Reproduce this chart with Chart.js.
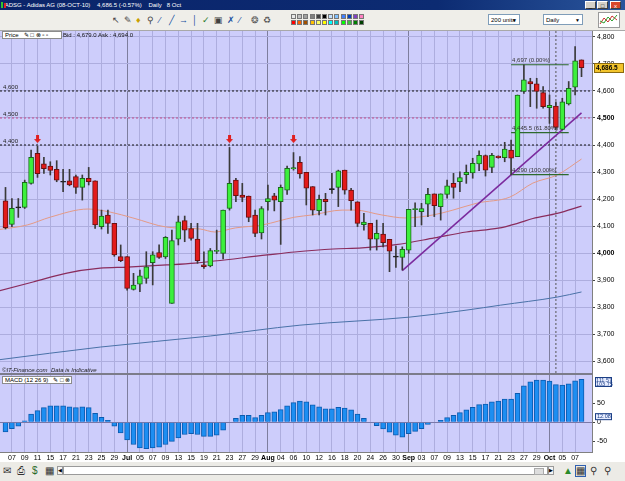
<!DOCTYPE html>
<html>
<head>
<meta charset="utf-8">
<title>ADSG - Adidas AG</title>
<script src="https://cdn.jsdelivr.net/npm/chart.js@4.4.8/dist/chart.umd.min.js"></script>
<style>
  body { margin:0; width:625px; height:481px; overflow:hidden; background:#fff; position:relative; font-family:"Liberation Sans", Arial, sans-serif; }
  .abs { position:absolute; }
  #title { left:0; top:0; width:625px; height:10px; background:linear-gradient(to right,#0a246a,#0c2b72 70%,#2a559c); color:#fff; font-size:6px; line-height:10px; white-space:pre; }
  #title .ico { position:absolute; left:1px; top:2px; width:2px; height:6px; background:#31c231; }
  #title .ico2 { position:absolute; left:4px; top:3px; width:2px; height:5px; background:#d22; }
  .wbtn { position:absolute; top:1px; width:11px; height:8px; background:#d4d0c8; border:1px solid #fff; border-right-color:#404040; border-bottom-color:#404040; font-size:6px; line-height:8px; text-align:center; color:#000; box-sizing:border-box; }
  #toolbar { left:0; top:10px; width:625px; height:20px; background:#efeee9; border-bottom:1px solid #a8a8a8; }
  .tb { position:absolute; top:4px; font-size:9px; color:#404040; line-height:12px; }
  .pal { position:absolute; width:5px; height:5px; border:1px solid #777; box-sizing:border-box; }
  .sel { position:absolute; top:4px; height:11px; background:#fff; border:1px solid #7f9db9; font-size:6px; line-height:10px; padding-left:2px; box-sizing:border-box; }
  .sel span { position:absolute; right:2px; top:0; font-size:5px; }
  #price { left:0; top:31px; }
  #sep { left:0; top:373px; width:593px; height:2px; background:#7c7c8a; }
  #macd { left:0; top:375px; }
  .hdr { position:absolute; background:#fff; border:1px solid #8c8c8c; font-size:6px; line-height:7px; height:8px; box-sizing:border-box; padding-left:2px; white-space:pre; }
  #bid { left:63px; top:32px; font-size:6px; color:#111; white-space:pre; }
  #copy { left:2px; top:367px; font-size:6px; font-style:italic; color:#222; white-space:pre; }
  #bottom { left:0; top:462px; width:625px; height:19px; background:#ecebe6; }
  .bi { position:absolute; top:3px; font-size:10px; color:#333; line-height:12px; }
  #scroll { left:63px; top:466px; width:485px; height:9px; background:#fff; border:1px solid #9a9a9a; box-sizing:border-box; }
  .sbtn { position:absolute; top:466px; width:6px; height:9px; border:1px solid #9a9a9a; background:#f4f4f4; box-sizing:border-box; font-size:5px; line-height:7px; text-align:center; }
</style>
</head>
<body>

<div id="title" class="abs"><div class="ico"></div><div class="ico2"></div>   ADSG - Adidas AG (08-OCT-10)    4,686.5 (-0.57%)    Daily   8 Oct
  <div class="wbtn" style="left:585px">_</div><div class="wbtn" style="left:597px">&#9633;</div><div class="wbtn" style="left:610px;background:#d9472b;color:#fff">x</div></div>

<div id="toolbar" class="abs">
  <span class="tb" style="left:112px">&#8598;</span>
  <span class="tb" style="left:124px">&#9998;</span>
  <span class="tb" style="left:136px;color:#c9a000">&#9830;</span>
  <span class="tb" style="left:147px">&#9906;</span>
  <span class="tb" style="left:159px;color:#2050a0">&#8260;</span>
  <span class="tb" style="left:169px;color:#2050a0">&#9585;</span>
  <span class="tb" style="left:179px;color:#2050a0">&#8594;</span>
  <span class="tb" style="left:192px;color:#2050a0">&#9474;</span>
  <span class="tb" style="left:202px;color:#2a7a2a">&#10003;</span>
  <span class="tb" style="left:214px">&#9635;</span>
  <span class="tb" style="left:227px;color:#2050a0">&#10007;</span>
  <span class="tb" style="left:239px;color:#2050a0">&#8260;</span>
  <span class="tb" style="left:251px;color:#555">&#10050;</span>
  <span class="tb" style="left:263px;color:#555">&#9851;</span>
  <div id="palette"></div>
  <div class="sel" style="left:488px;width:32px">200 units<span>&#9660;</span></div>
  <div class="sel" style="left:543px;width:40px">Daily<span>&#9660;</span></div>
  <svg class="abs" style="left:598px;top:2px" width="22" height="16"><rect x="0.5" y="0.5" width="21" height="15" fill="#fff" stroke="#9a9a9a"/><polyline points="2,12 6,6 10,10 14,4 19,8" fill="none" stroke="#d03030"/><polyline points="2,9 6,11 10,5 14,9 19,3" fill="none" stroke="#30a030"/></svg>
</div>

<canvas id="price" class="abs" width="625" height="342"></canvas>
<div id="sep" class="abs"></div>
<canvas id="macd" class="abs" width="625" height="87"></canvas>

<div class="hdr" style="left:2px;top:31px;width:60px">Price   &#9998; &#9633; &#8855; &#9643; &#9643;</div>
<div id="bid" class="abs">Bid : 4,679.0 Ask : 4,694.0</div>
<div id="copy" class="abs">&copy;IT-Finance.com  Data is Indicative</div>
<div class="hdr" style="left:2px;top:376px;width:70px">MACD (12 26 9)   &#9998; &#9633; &#8855;</div>

<div id="bottom" class="abs">
  <span class="bi" style="left:3px">&#9993;</span>
  <span class="bi" style="left:17px">&#9113;</span>
  <span class="bi" style="left:32px;color:#2a6a2a">$</span>
  <span class="bi" style="left:45px">&#9638;</span>
  <span class="bi" style="left:563px;color:#2a8a2a">&#9650;</span>
  <span class="bi" style="left:575px;border:1px solid #3060b0;line-height:10px">&#9638;</span>
  <span class="bi" style="left:590px">&#9906;</span>
  <span class="bi" style="left:604px">&#9906;</span>
</div>
<div class="sbtn" style="left:57px">&#9664;</div>
<div id="scroll" class="abs"><div class="abs" style="left:470px;top:1px;width:8px;height:5px;background:#ddd;border:1px solid #aaa"></div></div>
<div class="sbtn" style="left:548px">&#9654;</div>

<script>
  'use strict';
  // ---- values (index 0 = 4 Jun 2010, 90 = 8 Oct 2010) ----
  const openP  = [4193,4106,4167,4169,4258,4369,4330,4322,4310,4265,4267,4283,4243,4277,4267,4098,4141,4110,3987,3987,
                  3865,3885,3906,3964,4002,3986,3814,4051,4120,4091,4052,3956,3952,4006,3999,4165,4270,4215,4211,4141,
                  4075,4190,4212,4190,4233,4312,4336,4299,4246,4157,4199,4235,4243,4307,4233,4190,4105,4110,4051,4070,
                  4051,3988,3984,4011,4161,4153,4181,4219,4172,4217,4258,4264,4290,4297,4330,4361,4317,4359,4353,4381,
                  4357,4598,4635,4626,4594,4538,4544,4458,4552,4614,4715];
  const highP  = [4243,4202,4202,4270,4381,4396,4354,4338,4342,4310,4310,4289,4289,4317,4267,4159,4159,4110,4030,3987,
                  3925,3937,4005,4005,4030,4061,4085,4137,4137,4110,4110,4005,4017,4085,4159,4391,4277,4258,4211,4159,
                  4172,4252,4221,4252,4322,4372,4357,4299,4246,4215,4221,4295,4307,4307,4240,4190,4147,4110,4122,4110,
                  4051,4026,4023,4162,4186,4184,4240,4219,4219,4270,4295,4301,4326,4351,4378,4363,4369,4360,4410,4418,
                  4585,4697,4647,4647,4616,4585,4560,4573,4635,4764,4715];
  const lowP   = [4089,4098,4132,4165,4255,4280,4295,4289,4264,4227,4249,4221,4196,4252,4091,4089,4073,3988,3968,3863,
                  3863,3857,3888,3882,3980,3980,3814,4030,4042,4048,3962,3943,3949,3998,3978,4159,4190,4190,4116,4061,
                  4052,4159,4156,4032,4217,4307,4277,4178,4141,4141,4141,4221,4172,4218,4159,4098,4085,4011,4011,4023,
                  3931,3947,3937,3999,4098,4104,4135,4135,4122,4203,4203,4227,4258,4277,4305,4285,4298,4351,4338,4290,
                  4357,4591,4542,4536,4536,4480,4456,4456,4548,4585,4653];
  const closeP = [4094,4166,4170,4262,4354,4294,4312,4306,4270,4262,4252,4243,4277,4264,4104,4137,4110,3993,3972,3869,
                  3881,3916,3949,3993,3984,4058,4046,4116,4085,4054,3972,3950,4009,4010,4159,4258,4212,4206,4132,4073,
                  4165,4202,4196,4243,4314,4316,4293,4240,4159,4199,4190,4238,4304,4233,4194,4110,4115,4051,4073,4038,
                  4007,3985,4014,4162,4165,4165,4217,4175,4219,4249,4243,4279,4299,4332,4362,4307,4362,4353,4385,4351,
                  4585,4641,4626,4598,4542,4547,4465,4560,4610,4712,4686.5];
  const macdHist = [-25,-17,-10.5,3.5,21,30,38,43,43,43,40,38,40,38,23,13,5,-10.5,-28,-46,
                    -58,-67,-69,-67,-65,-58,-50,-41,-32,-30,-32,-37,-37,-34,-21,0,10,18,18,12,
                    18,25,27,33,43,51,55,53,45,40,35,35,39,37,32,21,10,0,-9,-17.5,
                    -26,-34,-39,-30,-24,-17,-6,0,5,12,18,25,32,39,46,47,53,55,60,60,
                    75,95,105,110,110,107,98,97,100,108,112];
  const xLabels = ['07','09','11','15','17','21','23','25','29','Jul','05','07','09','13','15','19','21','23','27','29',
                   'Aug','04','06','10','12','16','18','20','24','26','30','Sep','03','07','09','13','15','17','21','23',
                   '27','29','Oct','05','07'];
  const xLabelIdx = xLabels.map((l, k) => 1 + 2 * k);
  const monthIdx = [19, 41, 63, 85];
  const priceTicks = [3600, 3700, 3800, 3900, 4000, 4100, 4200, 4300, 4400, 4500, 4600, 4700, 4800];
  const boldTicks = [4000, 4500];
  const macdTicks = [-50, 0, 50];

  // moving averages (index, price) read at points along each curve
  const maShortX = [-1, 3.4, 7, 12.9, 16.3, 19.9, 25.2, 30.4, 32.7, 35.9, 40.1, 45.2, 47.9, 52.6, 54.6, 58.8, 62.4, 66.8, 69.9, 73.7, 78.8, 82.4, 86.2, 90];
  const maShortY = [4087, 4104, 4133, 4163, 4152, 4130, 4096, 4089, 4078, 4093, 4104, 4133, 4141, 4159, 4159, 4141, 4130, 4141, 4159, 4185, 4207, 4259, 4289, 4348];
  const maMidX = [-1, 4.3, 9.6, 14.8, 19, 25.2, 29.6, 40.9, 45.2, 51.2, 55.7, 61, 67, 72, 77, 80, 82.4, 86.2, 90];
  const maMidY = [3860, 3893, 3926, 3944, 3948, 3956, 3963, 3993, 4004, 4015, 4019, 4031, 4056, 4078, 4092, 4110, 4128, 4147, 4174];
  const maLongX = [-1, 14.8, 32, 46, 63.2, 72.1, 77.3, 86.2, 90];
  const maLongY = [3605, 3652, 3693, 3733, 3763, 3789, 3807, 3837, 3856];

  const trendX = [62, 90];
  const trendY = [3935, 4519];
  const fibX = [79, 88];
  const fibY = [4697, 4445.5, 4290];
  const fibText = ['4,697 (0.00%)', '4,445.5 (61.80%)', '4,290 (100.00%)'];
  const levelY = [4600, 4500, 4400];
  const levelText = ['4,600', '4,500', '4,400'];
  const arrowX = [5, 35, 45];
  const arrowY = [4422, 4422, 4422];
  const cursorX = 86;
  const lastPrice = 4686.5;

  const X_MIN = -0.86, X_MAX = 91.64;
  const P_MIN = 3556, P_MAX = 4822;
  const M_MIN = -77.6, M_MAX = 123;
  const PLOT_BG = '#cdcdfb';
  const GRID = '#adadde';
  const GRID_MONTH = '#7e7e9e';

  Chart.defaults.font.family = '"Liberation Sans", Arial, sans-serif';
  Chart.defaults.font.size = 7;
  Chart.defaults.color = '#000';

  palette();
  function palette() {
    const cols = [['#e8e8e8','#c0c0c0','#a0a0a0','#808080','#404040','#000','#c0e0ff','#80c0ff','#4080ff','#0040c0','#8040c0','#ff80c0'],
                  ['#ff0000','#ff6000','#a05000','#ffc000','#ffff60','#ffff00','#00ffff','#00c0c0','#00ff00','#40c040','#008000','#004000']];
    const box = document.getElementById('palette');
    cols.forEach((row, r) => row.forEach((c, k) => {
      const d = document.createElement('div');
      d.className = 'pal';
      d.style.left = (291 + k * 6.2) + 'px';
      d.style.top = (4 + r * 6) + 'px';
      d.style.background = c;
      box.appendChild(d);
    }));
  }

  function arrowImg() {
    const c = document.createElement('canvas');
    c.width = 7; c.height = 8;
    const g = c.getContext('2d');
    g.fillStyle = '#e02020';
    g.fillRect(2, 0, 3, 4);
    g.beginPath(); g.moveTo(0, 4); g.lineTo(7, 4); g.lineTo(3.5, 8); g.closePath(); g.fill();
    return c;
  }

  const pts = (xs, ys) => xs.map((x, k) => ({x: x, y: ys[k]}));
  const gridColor = c => monthIdx.includes(c.tick.value) ? GRID_MONTH : GRID;

  const bgPlugin = {
    id: 'bg',
    beforeDraw(chart) {
      const a = chart.chartArea, ctx = chart.ctx;
      ctx.save();
      ctx.fillStyle = PLOT_BG;
      ctx.fillRect(a.left, a.top, a.width, a.height);
      ctx.restore();
    }
  };

  const priceText = {
    id: 'priceText',
    afterDraw(chart) {
      const ctx = chart.ctx, x = chart.scales.x, y = chart.scales.y;
      ctx.save();
      ctx.font = '6px "Liberation Sans", Arial, sans-serif';
      ctx.fillStyle = '#222';
      ctx.textBaseline = 'bottom';
      levelY.forEach((v, k) => ctx.fillText(levelText[k], 3, y.getPixelForValue(v) - 1));
      ctx.fillStyle = '#333';
      fibY.forEach((v, k) => ctx.fillText(fibText[k], x.getPixelForValue(fibX[0]) + 1, y.getPixelForValue(v) - 1));
      // last price box on the right axis
      const py = Math.round(y.getPixelForValue(lastPrice));
      ctx.fillStyle = '#f2c42c';
      ctx.strokeStyle = '#8a6a10';
      ctx.fillRect(594, py - 5, 30, 10);
      ctx.strokeRect(594.5, py - 4.5, 29, 9);
      ctx.fillStyle = '#000';
      ctx.font = 'bold 6.5px "Liberation Sans", Arial, sans-serif';
      ctx.textBaseline = 'middle';
      ctx.fillText('4,686.5', 596, py + 0.5);
      ctx.restore();
    }
  };

  const bodyColor = openP.map((o, i) => Math.abs(closeP[i] - o) < 4 ? '#1a1a1a' : (closeP[i] > o ? '#3cf03c' : '#e21a1a'));
  const bodyBorder = openP.map((o, i) => Math.abs(closeP[i] - o) < 4 ? '#1a1a1a' : (closeP[i] > o ? '#1a6a1a' : '#6a1010'));

  new Chart(document.getElementById('price'), {
    type: 'bar',
    data: {
      datasets: [
        { type: 'bar', data: openP.map((o, i) => ({x: i, y: [o, closeP[i]]})), backgroundColor: bodyColor, borderColor: bodyBorder,
          borderWidth: 1, borderSkipped: false, barThickness: 5, minBarLength: 1, grouped: false, order: 0 },
        { type: 'bar', data: lowP.map((l, i) => ({x: i, y: [l, highP[i]]})), backgroundColor: '#3a3a3a',
          borderWidth: 0, barThickness: 1, grouped: false, order: 1 },
        { type: 'line', data: pts(arrowX, arrowY), showLine: false, pointStyle: arrowImg(), pointRadius: 4, order: 0 },
        { type: 'line', data: pts(trendX, trendY), borderColor: '#7b2a9e', borderWidth: 1.5, pointRadius: 0, order: 2 },
        ...fibY.map(v => ({ type: 'line', data: pts(fibX, [v, v]), borderColor: '#2d6a2d', borderWidth: 1.2, pointRadius: 0, order: 3 })),
        { type: 'line', data: pts(maShortX, maShortY), borderColor: '#e49a86', borderWidth: 1, pointRadius: 0, cubicInterpolationMode: 'monotone', order: 4 },
        { type: 'line', data: pts(maMidX, maMidY), borderColor: '#8a2c5c', borderWidth: 1.2, pointRadius: 0, cubicInterpolationMode: 'monotone', order: 4 },
        { type: 'line', data: pts(maLongX, maLongY), borderColor: '#4a72a8', borderWidth: 1, pointRadius: 0, cubicInterpolationMode: 'monotone', order: 4 },
        ...levelY.map((v, k) => ({ type: 'line', data: pts([X_MIN, X_MAX], [v, v]), borderColor: k === 1 ? '#c04a8a' : '#111',
          borderWidth: 1, borderDash: [2, 2], pointRadius: 0, order: 5 })),
        { type: 'line', data: pts([cursorX, cursorX], [P_MIN, P_MAX]), borderColor: '#555', borderWidth: 1, borderDash: [2, 2], pointRadius: 0, order: 5 }
      ]
    },
    options: {
      responsive: false, animation: false,
      layout: { padding: 0, autoPadding: false },
      plugins: { legend: { display: false }, tooltip: { enabled: false } },
      scales: {
        x: {
          type: 'linear', min: X_MIN, max: X_MAX, offset: false,
          grid: { offset: false, color: gridColor, drawTicks: false },
          border: { display: false },
          ticks: { display: false },
          afterBuildTicks: s => { s.ticks = xLabelIdx.map(v => ({value: v})); },
          afterFit: s => { s.height = 0; s.paddingLeft = 0; s.paddingRight = 0; }
        },
        y: {
          position: 'right', min: P_MIN, max: P_MAX, beginAtZero: false,
          grid: { color: GRID, tickLength: 3, tickColor: '#444' },
          border: { color: '#808080' },
          ticks: { padding: 2, callback: v => v.toLocaleString('en-US'),
                   font: c => ({ size: 7, weight: boldTicks.includes(c.tick && c.tick.value) ? 'bold' : 'normal' }) },
          afterBuildTicks: s => { s.ticks = priceTicks.map(v => ({value: v})); },
          afterFit: s => { s.width = 33; s.paddingTop = 0; s.paddingBottom = 0; }
        }
      }
    },
    plugins: [bgPlugin, priceText]
  });

  const macdText = {
    id: 'macdText',
    afterDraw(chart) {
      const ctx = chart.ctx, y = chart.scales.y;
      ctx.save();
      ctx.font = '5.5px "Liberation Sans", Arial, sans-serif';
      ctx.textBaseline = 'middle';
      ctx.fillStyle = '#e6ecff';
      ctx.strokeStyle = '#1c3f86';
      ctx.fillRect(595, 2, 17, 10);
      ctx.strokeRect(595.5, 2.5, 16, 9);
      ctx.fillRect(595, y.getPixelForValue(21) - 1, 17, 7);
      ctx.strokeRect(595.5, y.getPixelForValue(21) - 0.5, 16, 6);
      ctx.fillStyle = '#1c3f86';
      ctx.fillText('111.57', 596, 5);
      ctx.fillText('103.75', 596, 9.5);
      ctx.fillText('12.08', 597, y.getPixelForValue(21) + 2.5);
      ctx.restore();
    }
  };

  new Chart(document.getElementById('macd'), {
    type: 'bar',
    data: {
      datasets: [
        { type: 'bar', data: macdHist.map((v, i) => ({x: i, y: v})), backgroundColor: '#1d8ef2', borderColor: '#0b5bb0',
          borderWidth: 1, barThickness: 5, grouped: false }
      ]
    },
    options: {
      responsive: false, animation: false,
      layout: { padding: 0, autoPadding: false },
      plugins: { legend: { display: false }, tooltip: { enabled: false } },
      scales: {
        x: {
          type: 'linear', min: X_MIN, max: X_MAX, offset: false,
          grid: { offset: false, color: gridColor, drawTicks: false },
          border: { color: '#808080' },
          ticks: { autoSkip: false, maxRotation: 0, padding: 2, callback: (v, k) => xLabels[k],
                   font: c => ({ size: 7, weight: monthIdx.includes(c.tick && c.tick.value) ? 'bold' : 'normal' }) },
          afterBuildTicks: s => { s.ticks = xLabelIdx.map(v => ({value: v})); },
          afterFit: s => { s.height = 10; s.paddingLeft = 0; s.paddingRight = 0; }
        },
        y: {
          position: 'right', min: M_MIN, max: M_MAX, beginAtZero: false,
          grid: { color: c => c.tick.value === 0 ? '#7a78a8' : 'rgba(0,0,0,0)', tickLength: 3, tickColor: '#444' },
          border: { color: '#808080' },
          ticks: { padding: 2 },
          afterBuildTicks: s => { s.ticks = macdTicks.map(v => ({value: v})); },
          afterFit: s => { s.width = 33; s.paddingTop = 0; s.paddingBottom = 0; }
        }
      }
    },
    plugins: [bgPlugin, macdText]
  });
</script>
</body>
</html>
